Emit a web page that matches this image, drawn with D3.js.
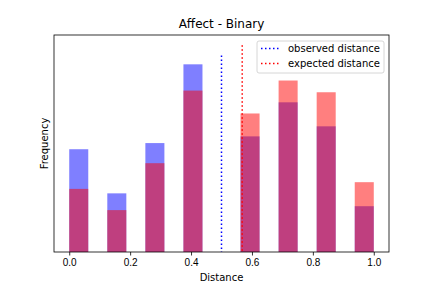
<!DOCTYPE html>
<html lang="en">
<head>
<meta charset="UTF-8">
<title>Affect - Binary</title>
<script src="https://cdn.jsdelivr.net/npm/d3@7"></script>
<style>
    html, body { margin: 0; padding: 0; background: #fff; }
    svg { display: block; font-family: "DejaVu Sans", sans-serif; }
    .axis text { font-size: 10px; fill: #000; }
    .axis path, .axis line { stroke: #000; stroke-width: 0.8; }
</style>
</head>
<body>
<svg id="chart" width="432" height="288"></svg>
<script>
    // bins of width 1/16, only these ones hold values
    var binStarts = [0, 0.125, 0.25, 0.375, 0.5625, 0.6875, 0.8125, 0.9375];
    var binWidth = 0.0625;
    var observed = [1.84, 1.05, 1.95, 3.36, 2.07, 2.68, 2.25, 0.82];
    var expected = [1.13, 0.75, 1.59, 2.89, 2.48, 3.07, 2.86, 1.25];
    var lines = [
        { name: "observed distance", x: 0.5, top: 3.52, color: "#0000ff" },
        { name: "expected distance", x: 0.568, top: 3.70, color: "#ff0000" }
    ];
    var xTicks = [0, 0.2, 0.4, 0.6, 0.8, 1.0];

    var svg = d3.select("#chart"),
        margin = { top: 35, right: 43, bottom: 36, left: 54 },
        width = +svg.attr("width") - margin.left - margin.right,
        height = +svg.attr("height") - margin.top - margin.bottom;

    var x = d3.scaleLinear().domain([-0.05, 1.05]).range([0, width]);
    var y = d3.scaleLinear().domain([0, 3.70 * 1.05]).range([height, 0]);

    var g = svg.append("g")
        .attr("transform", "translate(" + margin.left + "," + margin.top + ")");

    function drawBars(vals, color) {
        g.append("g").selectAll("rect")
            .data(vals)
            .enter().append("rect")
            .attr("x", (d, i) => x(binStarts[i]))
            .attr("width", (d, i) => x(binStarts[i] + binWidth) - x(binStarts[i]))
            .attr("y", d => y(d))
            .attr("height", d => y(0) - y(d))
            .attr("fill", color)
            .attr("fill-opacity", 0.5);
    }
    drawBars(observed, "#0000ff");
    drawBars(expected, "#ff0000");

    // dotted vertical lines
    g.selectAll(".vline")
        .data(lines)
        .enter().append("line")
        .attr("class", "vline")
        .attr("x1", d => x(d.x)).attr("x2", d => x(d.x))
        .attr("y1", d => y(d.top)).attr("y2", y(0))
        .attr("stroke", d => d.color)
        .attr("stroke-width", 1.5)
        .attr("stroke-dasharray", "1.5,2.5");

    // axes
    g.append("g")
        .attr("class", "axis")
        .attr("transform", "translate(0," + height + ")")
        .call(d3.axisBottom(x).tickValues(xTicks).tickFormat(d3.format(".1f")).tickSize(3.5).tickPadding(3.5))
        .call(a => a.select(".domain").remove());

    // frame
    g.append("rect")
        .attr("width", width).attr("height", height)
        .attr("fill", "none").attr("stroke", "#000").attr("stroke-width", 0.8);

    svg.append("text")
        .attr("x", margin.left + width / 2).attr("y", margin.top - 7)
        .attr("text-anchor", "middle").attr("font-size", 12)
        .text("Affect - Binary");

    svg.append("text")
        .attr("x", margin.left + width / 2).attr("y", margin.top + height + 29)
        .attr("text-anchor", "middle").attr("font-size", 10)
        .text("Distance");

    svg.append("text")
        .attr("transform", "translate(" + (margin.left - 6) + "," + (margin.top + height / 2) + ") rotate(-90)")
        .attr("text-anchor", "middle").attr("font-size", 10)
        .text("Frequency");

    // legend
    var legend = svg.append("g").attr("transform", "translate(257,41)");
    legend.append("rect")
        .attr("width", 127).attr("height", 32).attr("rx", 2)
        .attr("fill", "#fff").attr("fill-opacity", 0.8)
        .attr("stroke", "#ccc").attr("stroke-width", 0.8);
    var item = legend.selectAll(".item")
        .data(lines)
        .enter().append("g")
        .attr("transform", (d, i) => "translate(0," + (7.5 + i * 15) + ")");
    item.append("line")
        .attr("x1", 4).attr("x2", 22)
        .attr("stroke", d => d.color)
        .attr("stroke-width", 1.5)
        .attr("stroke-dasharray", "1.5,2.5");
    item.append("text")
        .attr("x", 31).attr("dy", "0.35em")
        .attr("font-size", 10)
        .text(d => d.name);
</script>
</body>
</html>
